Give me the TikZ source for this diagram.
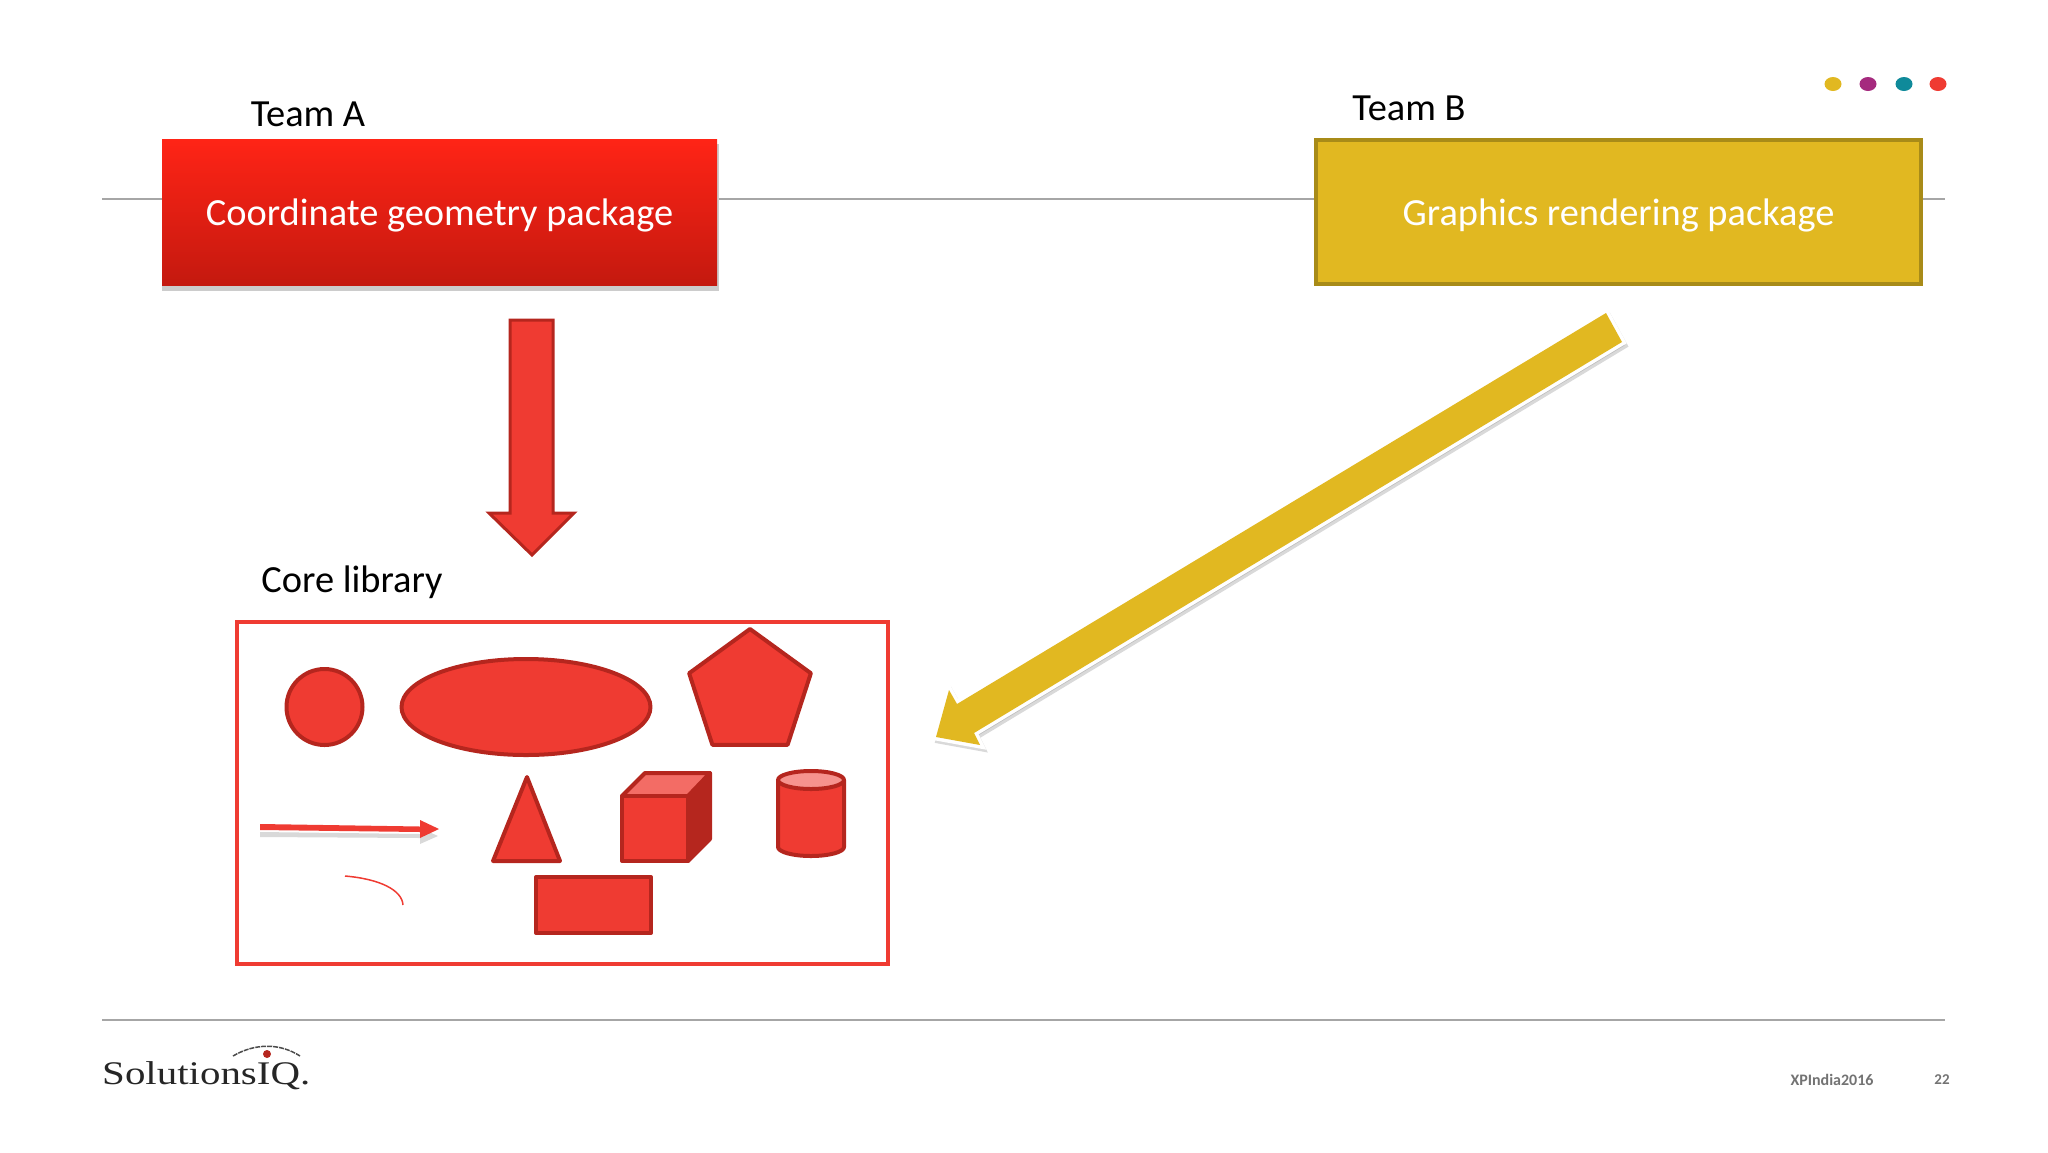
\documentclass[tikz,border=0pt]{standalone}
\usepackage{fontspec}
\setmainfont{Carlito}
\newfontfamily\logofont{Liberation Serif}
\usetikzlibrary{shapes}
\definecolor{shapefill}{HTML}{EF3B32}
\definecolor{shapeline}{HTML}{B5261E}
\definecolor{teamred}{HTML}{FF2416}
\definecolor{teamredlow}{HTML}{C4190F}
\definecolor{teamgold}{HTML}{E1B821}
\definecolor{teamgoldline}{HTML}{A88B18}
\tikzset{
	label_n/.style = {inner sep=0pt, font=\fontsize{38.4}{38.4}\selectfont, black},% titre
	team_box/.style = {inner sep=0pt, minimum width=#1, minimum height=146pt,
		text=white, font=\fontsize{38.4}{38.4}\selectfont, text height=34pt},% boite equipe
	geo/.style = {fill=shapefill, draw=shapeline, line width=4pt, inner sep=0pt,
		line join=round},% forme rouge
	rule_l/.style = {draw=black!35, line width=1.5pt},% filet
	dot_n/.style = {ellipse, inner sep=0pt, minimum width=17pt, minimum height=14pt},
	arrow_sh/.style = {fill=black!50, draw=black!50, line width=6pt, opacity=.3,
		line join=miter, transform canvas={shift={(2.5pt,-3.5pt)}}},
	arrow_w/.style = {fill=white, draw=white, line width=7pt, line join=miter},
	arrow_y/.style = {fill=teamgold}
}
\begin{document}
\begin{tikzpicture}[x=1pt,y=-1pt]
	\useasboundingbox (0,0) rectangle (2048,1152);
	% filets
	\coordinate (r1a) at (102,199);
	\coordinate (r1b) at (1945,199);
	\coordinate (r2a) at (102,1020);
	\coordinate (r2b) at (1945,1020);
	\draw[rule_l] (r1a) -- (r1b);
	\draw[rule_l] (r2a) -- (r2b);
	% points
	\foreach \px/\pc in {1833/E1B821,1868/A52A7E,1904/0F8A9A,1938/EF3B32}{
		\definecolor{dotcol}{HTML}{\pc}
		\node[dot_n, fill=dotcol] (dot\px) at (\px,84) {};
	}
	% equipes
	\fill[black!20] (162,144) rectangle (719,291);
	\node[team_box=555pt, top color=teamred, bottom color=teamredlow] (boxa) at (439.5,212) {Coordinate geometry package};
	\node[team_box=605pt, minimum height=144pt, fill=teamgold, draw=teamgoldline, line width=4pt] (boxb) at (1618.5,211.5) {Graphics rendering package};
	\node[label_n] (teama) at (308,114) {Team A};
	\node[label_n] (teamb) at (1409,108) {Team B};
	\node[label_n] (corel) at (352,582) {Core library};
	% fleche rouge
	\draw[geo, line width=3pt, line join=miter] (510,320) -- (553,320) -- (553,513) -- (574,513) -- (532,555) -- (489,513) -- (510,513) -- cycle;
	% fleche jaune
	\coordinate (ya) at (1606,313);
	\coordinate (yb) at (1622,342);
	\coordinate (yc) at (974,733);
	\coordinate (yd) at (980,745);
	\coordinate (ye) at (936,737);
	\coordinate (yf) at (949,690);
	\coordinate (yg) at (957,704);
	\foreach \ys in {arrow_sh,arrow_w,arrow_y}
		\path[\ys] (ya) -- (yb) -- (yc) -- (yd) -- (ye) -- (yf) -- (yg) -- cycle;
	% bibliotheque
	\node[draw=shapefill, line width=4pt, inner sep=0pt, minimum width=651pt, minimum height=342pt] (core) at (562,792.5) {};
	\node[geo, circle, minimum size=76pt] (round) at (324.5,707) {};
	\node[geo, ellipse, minimum width=249pt, minimum height=96pt] (oval) at (526,707) {};
	\node[geo, regular polygon, regular polygon sides=5, minimum size=128pt] (penta) at (750,693) {};
	\node[geo, minimum width=115pt, minimum height=56pt] (rect) at (593.5,905) {};
	\fill[black!50, opacity=.3] (260,832) -- (420,834) -- (420,828) -- (438,836) -- (420,844) -- (420,838) -- (260,837) -- cycle;
	\fill[shapefill] (260,824) -- (420,826.5) -- (420,820) -- (439,829) -- (420,838) -- (420,832) -- (260,830) -- cycle;
	\draw[geo] (527,777) -- (560,861) -- (493,861) -- cycle;
	% cube
	\draw[geo, fill=shapeline] (688,796) -- (710,773) -- (710,839) -- (688,861) -- cycle;
	\draw[geo, fill=shapefill!75!white] (622,796) -- (645,773) -- (710,773) -- (688,796) -- cycle;
	\draw[geo] (622,796) rectangle (688,861);
	% cylindre
	\draw[geo] (778,780) -- (778,847) arc[start angle=180, end angle=360, x radius=33, y radius=-9] -- (844,780);
	\draw[geo, fill=shapefill!55!white] (811,780) ellipse[x radius=33, y radius=9];
	% courbe
	\draw[shapefill, line width=1.5pt] (345,876) .. controls (380,879) and (402,890) .. (403,905);
	% logo
	\draw[black!70, line width=1.5pt, dash pattern=on 5pt off 1pt] (233,1056) .. controls (255,1043) and (280,1043) .. (300,1056);
	\fill[shapeline] (267,1054) circle[radius=4];
	\node[inner sep=0pt, anchor=base west, font=\logofont\fontsize{33}{33}\selectfont, text=black!85, xscale=1.24] (logo) at (102,1084) {SolutionsIQ.};
	% pied
	\node[inner sep=0pt, font=\bfseries\fontsize{16}{16}\selectfont, text=black!55] (foot) at (1832,1080) {XPIndia2016};
	\node[inner sep=0pt, font=\bfseries\fontsize{15}{15}\selectfont, text=black!55] (page) at (1942,1080) {22};
\end{tikzpicture}
\end{document}
